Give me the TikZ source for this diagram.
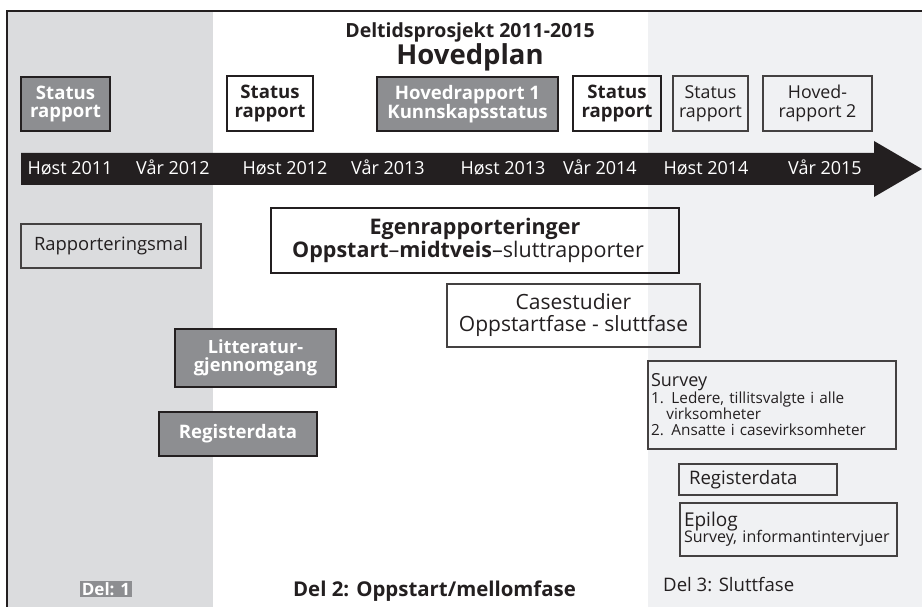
\documentclass[tikz,border=0pt]{standalone}
\usepackage{fontspec}
\setmainfont{Open Sans}
\definecolor{panelA}{HTML}{DBDCDE}
\definecolor{panelC}{HTML}{F0F1F3}
\definecolor{boxgray}{HTML}{8D8E91}
\definecolor{ink}{HTML}{231F20}
\newcommand\fsz[2]{\fontsize{#1}{#2}\selectfont}
\begin{document}
\begin{tikzpicture}[x=1pt,y=-1pt,
  sz/.style n args={2}{minimum width=#1, minimum height=#2},
  graybox/.style={draw=ink, line width=1.3, fill=boxgray, text=white, font=\fsz{18.6}{18.5}\bfseries, align=center, inner sep=0},
  boldbox/.style={draw=ink, line width=2.2, text=ink, font=\fsz{18.6}{18.5}\bfseries, align=center, inner sep=0},
  thinbox/.style={draw=ink!85, line width=1.2, text=ink, font=\fsz{17.8}{18.5}, align=center, inner sep=0},
  yr/.style={text=white, font=\fsz{18}{20}, anchor=base, inner sep=0},
  lbl/.style={text=ink, anchor=base, inner sep=0}
]
\useasboundingbox (0,0) rectangle (922,607);
% panels
\fill[panelA] (8,12) rectangle (213,607);
\fill[panelC] (648,12) rectangle (922,607);
\draw[ink, line width=2] (7,607) -- (7,11) -- (922,11);
% title
\node[lbl, font=\fsz{19.5}{20}\bfseries] (title1) at (470,38) {Deltidsprosjekt 2011-2015};
\node[lbl, font=\fsz{27.5}{28}\bfseries] (title2) at (470,65) {Hovedplan};
% report boxes
\node[graybox, sz={89}{54}] (sr1) at (65.5,104) {Status\\rapport};
\node[boldbox, sz={86}{55}] (sr2) at (270,103.5) {Status\\rapport};
\node[graybox, sz={181}{54}] (hr1) at (467.5,104) {Hovedrapport 1\\Kunnskapsstatus};
\node[boldbox, sz={88}{55}] (sr3) at (617,103.5) {Status\\rapport};
\node[thinbox, sz={75}{55}] (sr4) at (710.5,103.5) {Status\\rapport};
\node[thinbox, sz={109}{55}] (hr2) at (817.5,103.5) {Hoved-\\rapport 2};
% timeline arrow
\fill[ink] (21,153) -- (874,153) -- (874,141) -- (922,169) -- (874,197) -- (874,185) -- (21,185) -- cycle;
\node[yr] (y1) at (70,175) {Høst 2011};
\node[yr] (y2) at (173,175) {Vår 2012};
\node[yr] (y3) at (285,175) {Høst 2012};
\node[yr] (y4) at (388,175) {Vår 2013};
\node[yr] (y5) at (503,175) {Høst 2013};
\node[yr] (y6) at (600,175) {Vår 2014};
\node[yr] (y7) at (706,175) {Høst 2014};
\node[yr] (y8) at (825,175) {Vår 2015};
% activities
\node[thinbox, sz={180}{44}, font=\fsz{18.4}{20}] (rapm) at (111,246) {Rapporteringsmal};
\node[boldbox, sz={408}{65}, font=\fsz{21.5}{22.5}] (egen) at (475,240.5) {\textbf{Egenrapporteringer}\\\textbf{Oppstart}–\textbf{midtveis}–sluttrapporter\hspace*{14pt}};
\node[thinbox, sz={253}{63}, font=\fsz{21}{22}] (case) at (573.5,315.5) {Casestudier\\Oppstartfase - sluttfase};
\node[graybox, sz={161}{58}, font=\fsz{18.2}{18.5}\bfseries] (litt) at (255.5,358) {Litteratur-\\gjennomgang};
\node[graybox, sz={158}{44}] (reg1) at (238,434) {Registerdata};
\node[thinbox, sz={248}{88}, align=left, text width=242, font=\fsz{15.3}{16}] (survey) at (772,405)
  {{\fsz{18}{18}Survey}\\[1pt]1. Ledere, tillitsvalgte i alle\\\hphantom{1.\,}virksomheter\\2. Ansatte i casevirksomheter};
\node[thinbox, sz={158}{31}, align=left, text width=138, font=\fsz{18.6}{18}] (reg2) at (758,479.5) {Registerdata};
\node[thinbox, sz={217}{53}, align=left, text width=209, font=\fsz{16}{16}] (epi) at (788.5,529.5)
  {{\fsz{19}{18}Epilog}\\[-2pt]Survey, informantintervjuer};
% phase labels
\node[fill=boxgray, text=white, font=\fsz{17}{18}\bfseries, inner sep=1.5] (del1) at (106,589) {Del: 1};
\node[lbl, font=\fsz{20.4}{20}\bfseries] (del2) at (434.5,596) {Del 2: Oppstart/mellomfase};
\node[lbl, font=\fsz{18.6}{18}, anchor=base west] (del3) at (663,591) {Del 3: Sluttfase};
\end{tikzpicture}
\end{document}
